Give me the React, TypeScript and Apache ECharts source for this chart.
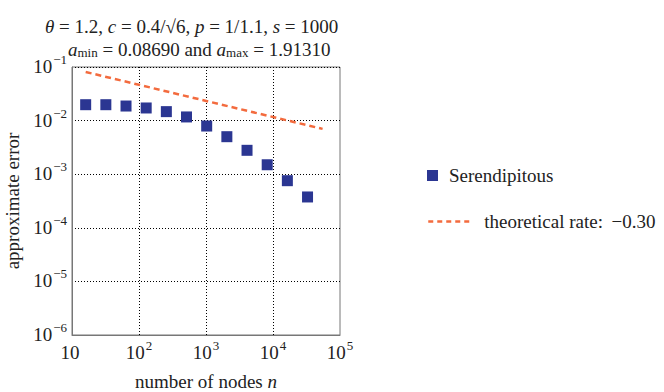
import React, { useEffect, useRef } from "react";
import * as echarts from "echarts";

const nodes = [16, 32, 64, 128, 256, 512, 1024, 2048, 4096, 8192, 16384, 32768];
const errors = [0.0198, 0.0198, 0.0187, 0.0172, 0.0147, 0.0117, 0.00792, 0.00501, 0.00279, 0.0015, 0.000757, 0.000376];
const rateX = [16, 55000];
const rateY = [0.0807, 0.007];
const seriesNames = ["Serendipitous", "theoretical rate: \u2009\u22120.30"];

const FONT = "Liberation Serif";
const BLUE = "#2b3692";
const ORANGE = "#f36b3e";
const TXT = "#222";
const FS = 19;

const supRich = {
  b: { fontFamily: FONT, fontSize: FS, color: TXT, verticalAlign: "bottom" as const },
  sup: { fontFamily: FONT, fontSize: 13, color: TXT, padding: [0, 0, 10, 1], verticalAlign: "bottom" as const },
};

function powLabel(v: number) {
  const e = Math.round(Math.log10(v));
  if (e === 1) return "{b|10}{sup| }";
  return "{b|10}{sup|" + (e < 0 ? "\u2212" + -e : String(e)) + "}";
}

export default function App() {
  const ref = useRef<HTMLDivElement>(null);
  useEffect(() => {
    if (!ref.current) return;
    const chart = echarts.init(ref.current, undefined, { renderer: "svg" });
    const titleRich = {
      r: { fontFamily: FONT, fontSize: FS, color: TXT, fontWeight: "normal" as const },
      i: { fontFamily: FONT, fontSize: FS, color: TXT, fontStyle: "italic" as const, fontWeight: "normal" as const },
      sub: { fontFamily: FONT, fontSize: 13, color: TXT, fontWeight: "normal" as const, padding: [7, 0, 0, 0], verticalAlign: "top" as const },
    };
    chart.setOption({
      animation: false,
      backgroundColor: "#fff",
      title: [
        {
          text: "{i|\u03b8}{r| = 1.2, }{i|c}{r| = 0.4/\u221a6, }{i|p}{r| = 1/1.1, }{i|s}{r| = 1000}",
          left: 40,
          top: 12,
          textStyle: { fontWeight: "normal", rich: titleRich },
        },
        {
          text: "{i|a}{sub|min}{r| = 0.08690 and }{i|a}{sub|max}{r| = 1.91310}",
          left: 63,
          top: 34,
          textStyle: { fontWeight: "normal", rich: titleRich },
        },
      ],
      legend: [
        {
          data: [seriesNames[0]],
          left: 422,
          top: 161,
          icon: "rect",
          itemWidth: 11,
          itemHeight: 11,
          selectedMode: false,
          textStyle: { fontFamily: FONT, fontSize: FS, color: TXT, padding: [0, 0, 0, 6] },
        },
        {
          data: [seriesNames[1]],
          left: 422,
          top: 207,
          itemWidth: 44,
          itemHeight: 14,
          selectedMode: false,
          itemStyle: { opacity: 0 },
          lineStyle: { width: 2.5, type: [5, 4] },
          textStyle: { fontFamily: FONT, fontSize: FS, color: TXT, padding: [0, 0, 0, 7] },
        },
      ],
      grid: {
        left: 72,
        right: 324,
        top: 67,
        bottom: 57,
        outerBoundsMode: "none",
        containLabel: false,
        show: true,
        borderColor: "#777",
        borderWidth: 1,
        backgroundColor: "transparent",
      },
      xAxis: {
        type: "log",
        logBase: 10,
        min: 10,
        max: 100000,
        name: "number of nodes {i|n}",
        nameLocation: "middle",
        nameGap: 37,
        nameTextStyle: {
          fontFamily: FONT,
          fontSize: FS,
          color: TXT,
          rich: { i: { fontFamily: FONT, fontSize: FS, fontStyle: "italic", color: TXT } },
        },
        axisLine: { show: true, lineStyle: { color: "#777", width: 1 } },
        axisTick: { show: false },
        minorTick: { show: false },
        axisLabel: { formatter: powLabel, margin: 4, rich: supRich },
        splitLine: {
          show: true,
          showMinLine: false,
          showMaxLine: false,
          lineStyle: { color: "#000", type: [1, 2], width: 1 },
        },
      },
      yAxis: {
        type: "log",
        logBase: 10,
        min: 1e-6,
        max: 0.1,
        name: "approximate error",
        nameLocation: "middle",
        nameRotate: 90,
        nameGap: 50,
        nameTextStyle: { fontFamily: FONT, fontSize: FS, color: TXT },
        axisLine: { show: true, lineStyle: { color: "#777", width: 1 } },
        axisTick: { show: false },
        minorTick: { show: false },
        axisLabel: { formatter: powLabel, margin: 5, padding: [0, 0, 5, 0], rich: supRich },
        splitLine: {
          show: true,
          showMinLine: false,
          showMaxLine: false,
          lineStyle: { color: "#000", type: [1, 2], width: 1 },
        },
      },
      series: [
        {
          name: seriesNames[0],
          type: "scatter",
          symbol: "rect",
          symbolSize: 11,
          itemStyle: { color: BLUE, opacity: 1 },
          data: nodes.map((n, i) => [n, errors[i]]),
          z: 3,
        },
        {
          name: seriesNames[1],
          type: "line",
          symbol: "none",
          showSymbol: false,
          lineStyle: { color: ORANGE, width: 2.5, type: [6, 4] },
          itemStyle: { color: ORANGE },
          data: rateX.map((x, i) => [x, rateY[i]]),
          z: 2,
        },
      ],
    });
    return () => chart.dispose();
  }, []);
  return <div ref={ref} style={{ position: "absolute", left: 0, top: 0, width: 664, height: 392 }} />;
}
